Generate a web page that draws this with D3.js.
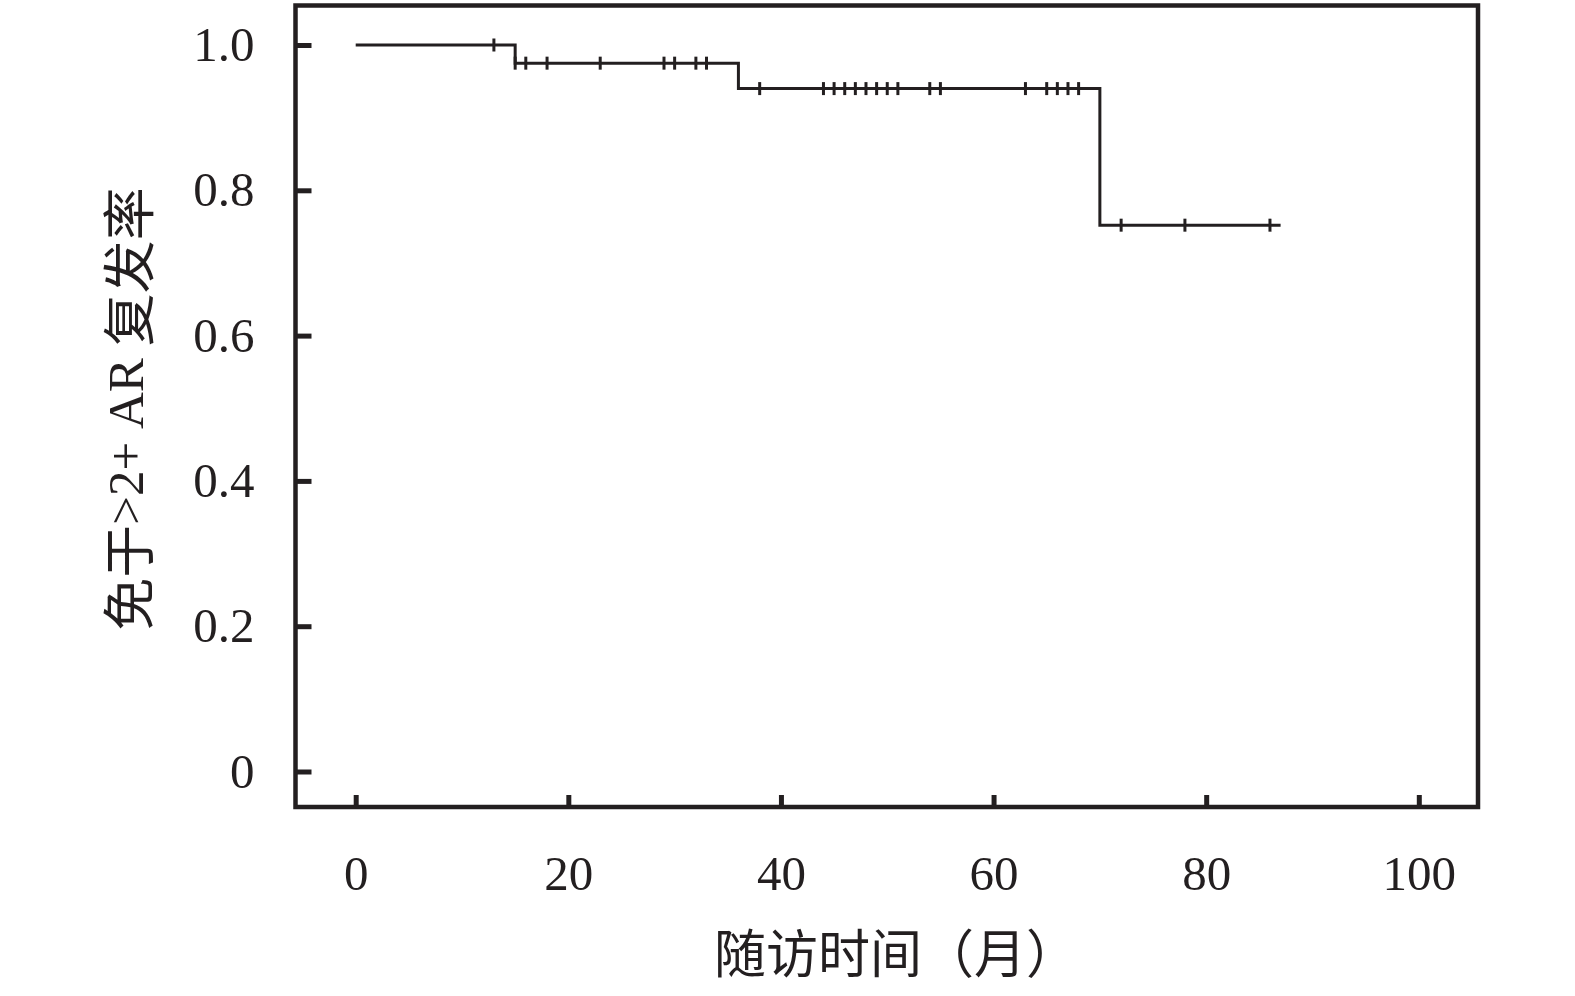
<!DOCTYPE html>
<html>
<head>
<meta charset="utf-8">
<script src="https://cdn.jsdelivr.net/npm/d3@7"></script>
<style>
  html, body { margin: 0; padding: 0; background: #fff; }
  svg { display: block; }
  text { fill: #231f20; }
</style>
</head>
<body>
<svg id="chart" width="1575" height="996"></svg>
<script>
// ---- data ----
const eventTimes = [15, 36, 70];
const survivalLevels = [1.0, 0.975, 0.940, 0.752];
const censorTimes = [13, 15, 16, 18, 23, 29, 30, 32, 33, 38, 44, 45, 46, 47, 48, 49, 50, 51, 54, 55, 63, 65, 66, 67, 68, 72, 78, 86];
const endTime = 87;
const xTicks = [0, 20, 40, 60, 80, 100];
const yTicks = [0, 0.2, 0.4, 0.6, 0.8, 1.0];
const yTickLabels = ["0", "0.2", "0.4", "0.6", "0.8", "1.0"];
const xTitle = "随访时间（月）";
const yTitleParts = ["免于", ">2+ AR", "复发率"];

// ---- layout ----
const ink = "#231f20";
const frame = { left: 295.5, right: 1478, top: 5.5, bottom: 807 };
const x = d3.scaleLinear().domain([0, 100]).range([355.7, 1418.8]);
const y = d3.scaleLinear().domain([0, 1]).range([771.5, 45]);
const serif = "'Liberation Serif', 'Times New Roman', serif";
const cjk = "'Noto Sans CJK SC', sans-serif";

const svg = d3.select("#chart");

function survAt(t) {
  let s = survivalLevels[0];
  eventTimes.forEach((e, i) => { if (t >= e) s = survivalLevels[i + 1]; });
  return s;
}

// step curve
const pts = [[0, survivalLevels[0]]];
eventTimes.forEach((e, i) => {
  pts.push([e, survivalLevels[i]]);
  pts.push([e, survivalLevels[i + 1]]);
});
pts.push([endTime, survivalLevels[survivalLevels.length - 1]]);
const line = d3.line().x(d => x(d[0])).y(d => y(d[1]));
svg.append("path")
  .attr("d", line(pts))
  .attr("fill", "none")
  .attr("stroke", ink)
  .attr("stroke-width", 3)
  .attr("stroke-linejoin", "miter");

// censor marks
svg.append("g").selectAll("line")
  .data(censorTimes)
  .join("line")
  .attr("x1", d => x(d)).attr("x2", d => x(d))
  .attr("y1", d => y(survAt(d)) - 6.5)
  .attr("y2", d => y(survAt(d)) + 6.5)
  .attr("stroke", ink)
  .attr("stroke-width", 3);

// axes
const yAxis = d3.axisLeft(y)
  .tickValues(yTicks)
  .tickFormat((d, i) => yTickLabels[i])
  .tickSizeInner(-16)
  .tickSizeOuter(0)
  .tickPadding(41);
const gy = svg.append("g").attr("transform", `translate(${frame.left},0)`).call(yAxis);

const xAxis = d3.axisBottom(x)
  .tickValues(xTicks)
  .tickFormat(d3.format("d"))
  .tickSizeInner(-12)
  .tickSizeOuter(0)
  .tickPadding(48);
const gx = svg.append("g").attr("transform", `translate(0,${frame.bottom})`).call(xAxis);

[gx, gy].forEach(g => {
  g.select(".domain").remove();
  g.selectAll(".tick line").attr("stroke", ink).attr("stroke-width", 5);
  g.selectAll(".tick text")
    .attr("fill", ink)
    .style("font-family", serif)
    .style("font-size", "49px");
});

// frame
svg.append("rect")
  .attr("x", frame.left).attr("y", frame.top)
  .attr("width", frame.right - frame.left)
  .attr("height", frame.bottom - frame.top)
  .attr("fill", "none")
  .attr("stroke", ink)
  .attr("stroke-width", 4.5);

// titles
svg.append("text")
  .attr("x", 714).attr("y", 973)
  .attr("text-anchor", "start")
  .style("font-family", cjk)
  .style("font-size", "52px")
  .text(xTitle);

const yt = svg.append("text")
  .attr("transform", "translate(126,409) rotate(-90)")
  .attr("text-anchor", "middle")
  .attr("dominant-baseline", "central");
yt.selectAll("tspan")
  .data(yTitleParts)
  .join("tspan")
  .style("font-family", (d, i) => i === 1 ? serif : cjk)
  .style("font-size", (d, i) => i === 1 ? "51px" : "53px")
  .attr("dx", (d, i) => i === 2 ? 12 : 0)
  .text(d => d);
</script>
</body>
</html>
